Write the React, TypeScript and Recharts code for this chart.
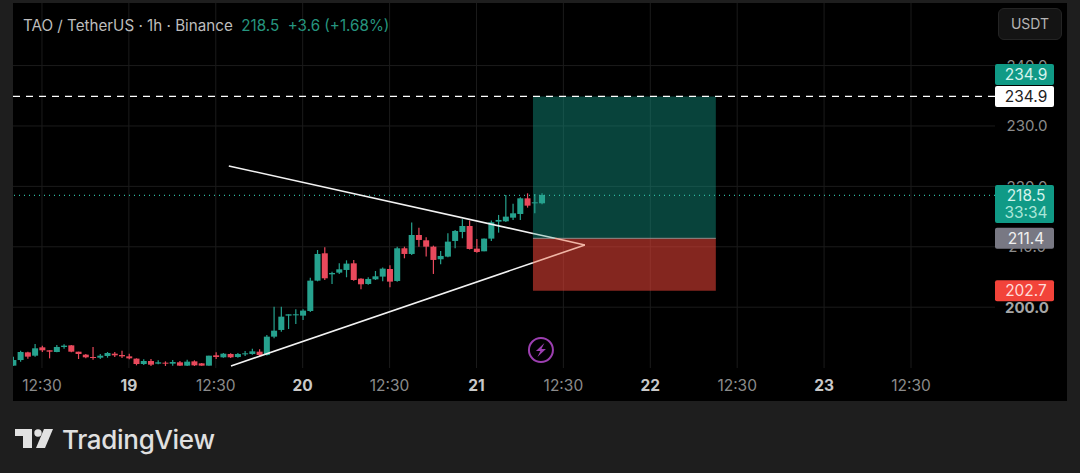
import { Bar, CartesianGrid, ComposedChart, ReferenceArea, ReferenceDot, ReferenceLine, XAxis, YAxis } from "recharts";

// hourly candles, hour 0 is the first 12:30 on the axis
const firstHour = -4;
const opens = [190.32,191.25,192.52,191.97,193.35,192.86,192.58,193.41,193.68,192.63,192.14,191.75,191.64,191.92,192.3,192.08,191.86,191.48,190.59,191.09,190.65,190.81,190.65,190.87,190.32,191.03,190.7,190.32,192.03,191.7,192.25,191.75,192.25,192.25,192.63,192.09,195.12,196.23,198.6,198.71,198.6,199.37,204.39,208.92,205.44,205.72,206.16,207.26,204.72,203.84,204.61,205.06,206.32,204.34,209.75,208.81,211.95,211.07,210.02,207.93,208.37,210.96,212.45,213.44,209.69,209.25,211.35,214.16,214.22,214.82,215.43,218.02,217.25,217.2];
const highs = [191.81,192.8,192.63,193.9,193.63,192.86,193.74,193.85,193.74,192.63,192.25,193.41,192.25,192.58,192.58,192.8,192.3,191.53,191.37,191.42,191.2,191.03,191.25,191.09,191.31,191.2,190.76,191.97,192.52,192.41,192.36,192.41,192.74,193.13,193.02,195.4,200.09,200.09,198.82,199.65,199.65,204.89,209.47,209.91,205.88,207.26,207.76,207.81,204.78,204.95,205.99,206.55,206.93,210.02,210.02,214,213.17,211.57,210.19,209.3,212.23,212.78,214.55,214.33,211.29,211.35,214.33,215.27,218.58,217.14,218.19,218.85,218.74,218.85];
const lows = [190.32,190.98,191.48,191.81,192.58,191.53,192.52,193.13,192.52,191.42,191.53,191.31,191.42,191.64,191.75,191.59,191.37,190.37,190.43,190.26,190.54,190.26,190.32,190.26,190.26,190.26,190.32,190.32,191.42,191.64,191.59,191.64,191.92,192.14,191.92,191.98,194.85,195.95,196.39,197.22,197.88,199.21,204.28,204.5,203.84,205.5,204.95,204.39,202.96,203.73,204.5,204.28,203.29,204.23,208.09,208.64,210.02,208.37,205.5,207.1,208.26,209.75,211.4,209.53,209.03,209.25,210.96,212.34,214.11,214.44,214.44,216.48,215.54,217.03];
const closes = [191.25,192.58,191.81,193.19,192.86,192.63,193.41,193.63,192.63,192.25,191.7,191.64,191.97,192.41,192.03,191.86,191.53,190.59,191.09,190.48,190.87,190.7,190.92,190.32,190.98,190.37,190.32,191.97,191.75,192.3,191.7,192.25,192.36,192.69,192.08,195.12,196.11,198.43,198.82,198.82,199.43,204.39,208.81,204.78,205.66,206.27,207.21,204.5,203.79,204.67,205.11,206.38,204.23,209.75,208.81,211.95,211.13,210.02,207.82,208.48,210.85,212.62,213.44,209.64,209.14,211.35,214.05,214.44,214.99,215.54,218.02,216.81,217.36,218.58];

const timeTicks = [0, 12, 24, 36, 48, 60, 72, 84, 96, 108, 120];
const timeLabels = ["12:30", "19", "12:30", "20", "12:30", "21", "12:30", "22", "12:30", "23", "12:30"];
const priceTicks = [200, 210, 220, 230, 240];

const lastPrice = 218.5;
const targetPrice = 234.9;
const entryPrice = 211.4;
const stopPrice = 202.7;

const positionStart = 67.8;
const positionEnd = 93.05;

// trend lines are split where they pass under the tinted position box
const upperOutside = [{ x: 25.8, y: 223.38 }, { x: positionStart, y: 212.21 }];
const upperOverTeal = [{ x: positionStart, y: 212.21 }, { x: 70.84, y: 211.4 }];
const upperOverRed = [{ x: 70.84, y: 211.4 }, { x: 74.97, y: 210.3 }];
const lowerOutside = [{ x: 26.1, y: 190.26 }, { x: positionStart, y: 207.36 }];
const lowerOverRed = [{ x: positionStart, y: 207.36 }, { x: 74.97, y: 210.3 }];

const candles = opens.map((open, i) => ({
  hour: firstHour + i,
  open,
  high: highs[i],
  low: lows[i],
  close: closes[i],
}));

const UP = "#26a28e";
const DOWN = "#e9495c";
const FONT = "Inter, Roboto, sans-serif";
const xMin = -4;
const xMax = 131.6;
const yMin = 189.93;
const yMax = 250.36;

function Candle(props: any) {
  const { x, y, width, height, payload } = props;
  const h = Math.abs(height);
  const top = height < 0 ? y + height : y;
  const range = payload.high - payload.low || 1;
  const bodyHi = Math.max(payload.open, payload.close);
  const bodyLo = Math.min(payload.open, payload.close);
  const y1 = top + (h * (payload.high - bodyHi)) / range;
  const y2 = top + (h * (payload.high - bodyLo)) / range;
  const color = payload.close >= payload.open ? UP : DOWN;
  const cx = x + width / 2;
  return (
    <g>
      <line x1={cx} x2={cx} y1={top} y2={top + h} stroke={color} strokeWidth={1.2} />
      <rect x={x} y={y1} width={width} height={Math.max(y2 - y1, 1)} fill={color} />
    </g>
  );
}

function TimeTick(props: any) {
  const { x, y, payload } = props;
  const label = timeLabels[timeTicks.indexOf(payload.value)];
  const isDay = label.length < 3;
  return (
    <text x={x} y={y + 15} textAnchor="middle" fontFamily={FONT} fontSize={15.5} fontWeight={isDay ? 700 : 400} fill={isDay ? "#c9c9c9" : "#8b8b8b"}>
      {label}
    </text>
  );
}

function PriceTick(props: any) {
  const { y, payload } = props;
  const bold = payload.value === 200;
  return (
    <text x={1027} y={y + 5.5} textAnchor="middle" fontFamily={FONT} fontSize={15} fontWeight={bold ? 700 : 400} fill={bold ? "#a6a6a6" : "#8b8b8b"}>
      {payload.value.toFixed(1)}
    </text>
  );
}

function PriceTag({ cy, value, tagFill, tagText, dy = 0, timer }: any) {
  const h = timer ? 38 : 21;
  const center = cy + dy;
  const top = timer ? center - 10.5 : center - h / 2;
  return (
    <g>
      <rect x={995} y={top} width={59} height={h} rx={2} fill={tagFill} />
      <text x={1026} y={top + 16} textAnchor="middle" fontFamily={FONT} fontSize={15.5} fill={tagText}>{value}</text>
      {timer && <text x={1026} y={top + 33.5} textAnchor="middle" fontFamily={FONT} fontSize={15.5} fill="#a9e6d8">{timer}</text>}
    </g>
  );
}

function BoltIcon({ cx, cy }: any) {
  return (
    <g>
      <circle cx={cx} cy={cy} r={12} fill="none" stroke="#9c3fb0" strokeWidth={2} />
      <path d={`M${cx + 3.5} ${cy - 7}L${cx - 5} ${cy + 1}H${cx - 0.5}L${cx - 3.5} ${cy + 7}L${cx + 5} ${cy - 1}H${cx + 0.5}Z`} fill="#9c3fb0" />
    </g>
  );
}

export default function App() {
  return (
    <div style={{ position: "absolute", left: 0, top: 0, width: 1080, height: 473, background: "#1e1e1e", overflow: "hidden" }}>
      <div style={{ position: "absolute", left: 13, top: 3, width: 1054, height: 398, background: "#000" }} />
      <div style={{ position: "absolute", left: 0, top: 0 }}>
        <ComposedChart width={1080} height={473} data={candles} margin={{ top: 3, right: 13, bottom: 73, left: 13 }}>
          <CartesianGrid stroke="#1b1b1b" strokeWidth={1} horizontalValues={priceTicks} verticalValues={timeTicks} />
          <XAxis dataKey="hour" type="number" domain={[xMin, xMax]} ticks={timeTicks} allowDataOverflow axisLine={false} tickLine={false} tick={<TimeTick />} height={32} interval={0} />
          <YAxis orientation="right" domain={[yMin, yMax]} ticks={priceTicks} allowDataOverflow axisLine={false} tickLine={false} tick={<PriceTick />} width={72} interval={0} />
          <ReferenceLine y={lastPrice} stroke="#2fb89f" strokeDasharray="1 4" strokeWidth={1.2} />
          <ReferenceArea x1={positionStart} x2={positionEnd} y1={entryPrice} y2={targetPrice} fill="#14a08c" fillOpacity={0.42} />
          <ReferenceArea x1={positionStart} x2={positionEnd} y1={stopPrice} y2={entryPrice} fill="#f04638" fillOpacity={0.55} />
          <ReferenceLine segment={[{ x: positionStart, y: entryPrice }, { x: positionEnd, y: entryPrice }]} stroke="#8d8d8d" strokeWidth={1} />
          <ReferenceLine segment={upperOutside} stroke="#f2f2f2" strokeWidth={1.6} />
          <ReferenceLine segment={upperOverTeal} stroke="#bcd8d2" strokeWidth={1.6} />
          <ReferenceLine segment={upperOverRed} stroke="#f0b5a5" strokeWidth={1.6} />
          <ReferenceLine segment={lowerOutside} stroke="#f2f2f2" strokeWidth={1.6} />
          <ReferenceLine segment={lowerOverRed} stroke="#f0b5a5" strokeWidth={1.6} />
          <ReferenceLine y={targetPrice} stroke="#ffffff" strokeDasharray="7 6" strokeWidth={1.4} />
          <Bar dataKey={(d: any) => [d.low, d.high]} barSize={6} shape={<Candle />} isAnimationActive={false} />
          <ReferenceDot x={68.9} y={192.9} r={12} shape={<BoltIcon />} />
        </ComposedChart>
      </div>
      {/* price tags sit in a second chart on top so they cover the axis labels */}
      <div style={{ position: "absolute", left: 0, top: 0 }}>
        <ComposedChart width={1080} height={473} data={candles} margin={{ top: 3, right: 85, bottom: 105, left: 13 }}>
          <XAxis dataKey="hour" type="number" domain={[xMin, xMax]} allowDataOverflow hide />
          <YAxis domain={[yMin, yMax]} allowDataOverflow hide />
          <ReferenceDot x={xMax} y={targetPrice} ifOverflow="visible" shape={<PriceTag value="234.9" tagFill="#109a86" tagText="#d5f3ec" dy={-22} />} />
          <ReferenceDot x={xMax} y={targetPrice} ifOverflow="visible" shape={<PriceTag value="234.9" tagFill="#ffffff" tagText="#222222" />} />
          <ReferenceDot x={xMax} y={lastPrice} ifOverflow="visible" shape={<PriceTag value="218.5" tagFill="#109a86" tagText="#d5f3ec" timer="33:34" />} />
          <ReferenceDot x={xMax} y={entryPrice} ifOverflow="visible" shape={<PriceTag value="211.4" tagFill="#787883" tagText="#f0f0f0" />} />
          <ReferenceDot x={xMax} y={stopPrice} ifOverflow="visible" shape={<PriceTag value="202.7" tagFill="#f2433a" tagText="#ffdcd8" />} />
        </ComposedChart>
      </div>
      <div style={{ position: "absolute", left: 23, top: 16, fontFamily: FONT, fontSize: 15.2, lineHeight: "20px", whiteSpace: "pre", color: "#bdbdbd" }}>
        TAO / TetherUS · 1h · Binance  <span style={{ color: "#26957f" }}>218.5  +3.6 (+1.68%)</span>
      </div>
      <div style={{ position: "absolute", left: 998, top: 8, width: 64, height: 32, boxSizing: "border-box", border: "1px solid #242424", borderRadius: 6, background: "#141414", color: "#b5b5b5", fontFamily: FONT, fontSize: 14, lineHeight: "30px", textAlign: "center" }}>
        USDT
      </div>
      <svg style={{ position: "absolute", left: 14, top: 428 }} width={40} height={24}>
        <path d="M1 1H18V20H9V8H1Z" fill="#e2e2e2" />
        <circle cx={24} cy={5} r={3.7} fill="#e2e2e2" />
        <path d="M30 1H39L31 20H22Z" fill="#e2e2e2" />
      </svg>
      <div style={{ position: "absolute", left: 62, top: 424, fontFamily: FONT, fontSize: 26, fontWeight: 500, lineHeight: "32px", letterSpacing: -0.3, color: "#e0e0e0" }}>
        TradingView
      </div>
    </div>
  );
}
